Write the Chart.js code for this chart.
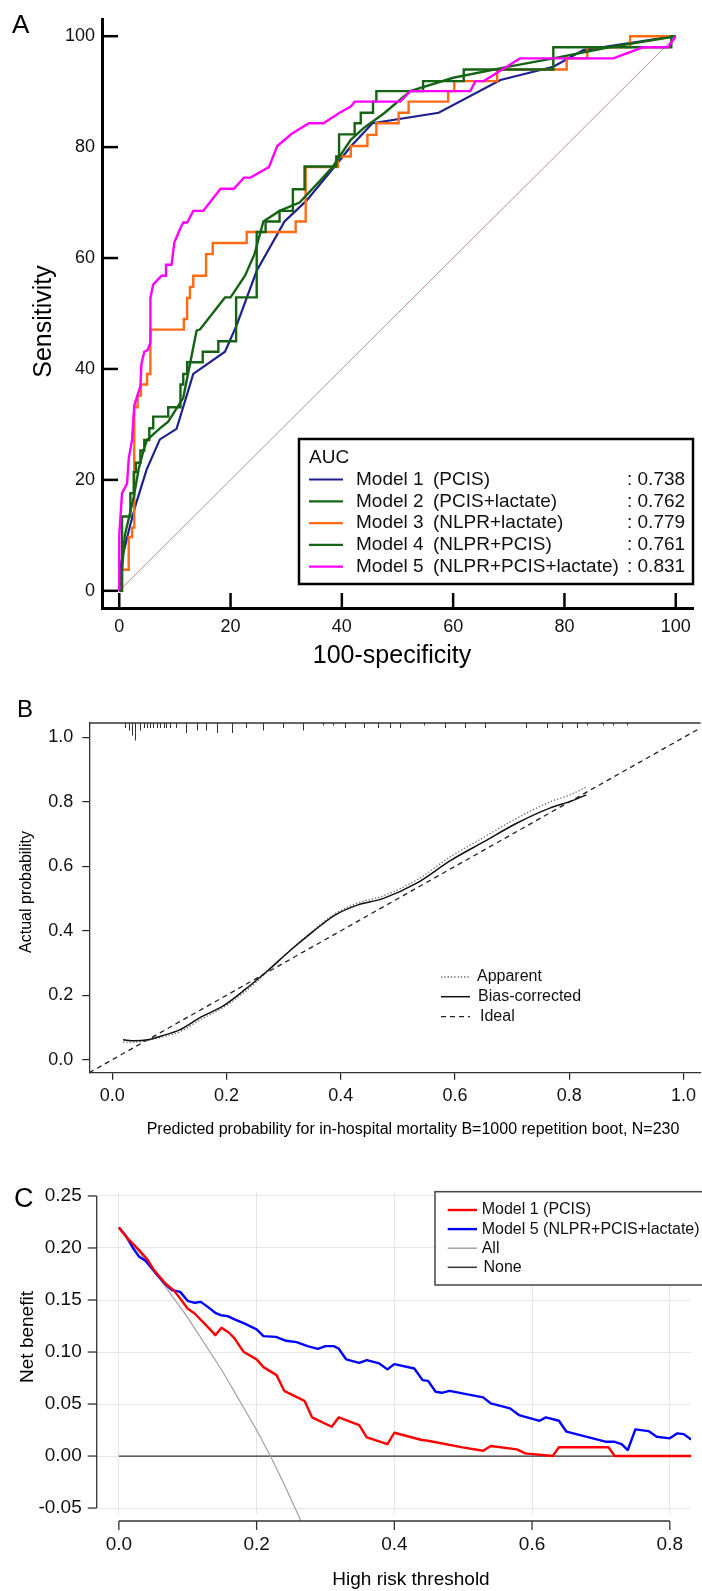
<!DOCTYPE html>
<html><head><meta charset="utf-8">
<script src="https://cdn.jsdelivr.net/npm/chart.js"></script>
<style>
html,body{margin:0;padding:0;background:#fff;width:702px;height:1591px;overflow:hidden;}
canvas{position:absolute;left:0;}
</style></head><body>
<canvas id="cA" width="702" height="680" style="top:0;width:702px;height:680px"></canvas>
<canvas id="cB" width="702" height="470" style="top:680px;width:702px;height:470px"></canvas>
<canvas id="cC" width="702" height="441" style="top:1150px;width:702px;height:441px"></canvas>
<script>
// ================= Panel A : ROC curves =================
const rocTicks = [0, 20, 40, 60, 80, 100];
const modelNums = ['1', '2', '3', '4', '5'];
const modelDesc = ['(PCIS)', '(PCIS+lactate)', '(NLPR+lactate)', '(NLPR+PCIS)', '(NLPR+PCIS+lactate)'];
const aucValues = ['0.738', '0.762', '0.779', '0.761', '0.831'];

const m1Fpr  = [0, 0.3, 2.0, 3.1, 4.9, 7.3, 10.3, 13.3, 19.0, 21.1, 24.7, 29.7, 33.6, 39.6, 41.6, 45.5, 57.4, 68.5, 78.0, 83.4, 100];
const m1Sens = [0, 5.0, 12.0, 16.0, 21.8, 27.3, 29.2, 39.1, 43.1, 47.9, 57.7, 66.6, 70.3, 77.6, 80.1, 84.3, 86.2, 92.1, 94.5, 97.5, 100];

const m2Fpr  = [0, 0.5, 0.5, 2.0, 2.0, 2.6, 2.6, 3.0, 3.0, 3.8, 3.8, 4.5, 4.5, 5.4, 5.4, 6.1, 6.1, 8.8, 8.8, 11.0, 11.0, 11.5, 11.5, 12.2, 12.2, 15.0, 15.0, 17.8, 17.8, 21.0, 21.0, 24.7, 24.7, 26.3, 26.3, 28.8, 28.8, 31.2, 31.2, 33.3, 33.3, 39.0, 39.0, 39.5, 39.5, 42.3, 42.3, 43.4, 43.4, 45.6, 45.6, 46.2, 46.2, 54.6, 54.6, 61.9, 61.9, 78.0, 78.0, 99.2, 99.2, 100];
const m2Sens = [0, 0, 13.4, 13.4, 17.6, 17.6, 21.4, 21.4, 23.1, 23.1, 25.3, 25.3, 27.2, 27.2, 29.3, 29.3, 31.4, 31.4, 33.1, 33.1, 37.2, 37.2, 39.1, 39.1, 41.2, 41.2, 43.1, 43.1, 45.0, 45.0, 52.9, 52.9, 64.7, 64.7, 66.6, 66.6, 68.5, 68.5, 72.4, 72.4, 76.5, 76.5, 78.3, 78.3, 82.3, 82.3, 84.3, 84.3, 86.2, 86.2, 88.2, 88.2, 90.1, 90.1, 91.9, 91.9, 94.0, 94.0, 98.0, 98.0, 100, 100];

const m3Fpr  = [0, 0.5, 0.5, 1.7, 1.7, 2.3, 2.3, 2.7, 2.7, 3.3, 3.3, 3.9, 3.9, 5.0, 5.0, 5.6, 5.6, 11.6, 11.6, 12.2, 12.2, 12.7, 12.7, 13.3, 13.3, 15.6, 15.6, 16.8, 16.8, 22.9, 22.9, 31.7, 31.7, 33.5, 33.5, 39.3, 39.3, 41.6, 41.6, 44.6, 44.6, 46.2, 46.2, 50.2, 50.2, 52.0, 52.0, 59.1, 59.1, 60.2, 60.2, 67.9, 67.9, 80.4, 80.4, 84.1, 84.1, 91.8, 91.8, 100];
const m3Sens = [0, 0, 3.8, 3.8, 9.7, 9.7, 11.4, 11.4, 33.1, 33.1, 35.2, 35.2, 37.2, 37.2, 39.1, 39.1, 47.1, 47.1, 49.0, 49.0, 52.8, 52.8, 54.8, 54.8, 56.8, 56.8, 60.7, 60.7, 62.7, 62.7, 64.7, 64.7, 66.6, 66.6, 76.4, 76.4, 78.3, 78.3, 80.2, 80.2, 82.2, 82.2, 84.3, 84.3, 86.2, 86.2, 88.2, 88.2, 90.1, 90.1, 91.9, 91.9, 94.0, 94.0, 96.0, 96.0, 98.0, 98.0, 100, 100];

const m4Fpr  = [0, 0.5, 1.0, 2.6, 3.5, 4.4, 5.0, 7.3, 8.8, 11.5, 13.9, 14.5, 19.0, 20.0, 22.6, 24.3, 25.9, 28.8, 32.4, 36.6, 38.4, 41.6, 44.0, 47.6, 52.3, 60.0, 70.0, 78.0, 88.0, 100];
const m4Sens = [0, 3.8, 10.0, 16.9, 22.0, 25.5, 27.2, 29.3, 30.5, 34.8, 46.9, 47.1, 52.9, 52.9, 56.8, 60.7, 66.6, 68.5, 70.0, 74.5, 76.5, 81.3, 83.5, 86.1, 90.1, 92.5, 94.5, 96.0, 98.0, 100];

const m5Fpr  = [0, 0, 0.5, 1.4, 1.7, 2.3, 2.7, 3.8, 4.0, 4.5, 5.1, 5.6, 5.6, 6.1, 7.6, 8.4, 8.4, 9.4, 9.9, 10.9, 11.5, 12.2, 13.3, 15.1, 18.2, 20.6, 22.4, 23.6, 26.9, 28.4, 31.0, 34.1, 36.7, 39.6, 41.6, 42.3, 50.5, 52.3, 63.1, 64.0, 65.5, 72.0, 88.8, 94.1, 98.6, 100];
const m5Sens = [0, 10.0, 17.6, 19.3, 23.8, 27.2, 33.4, 36.9, 41.0, 43.1, 43.4, 44.8, 52.8, 55.2, 56.8, 56.8, 58.8, 58.8, 62.8, 65.2, 66.4, 66.4, 68.5, 68.5, 72.5, 72.5, 74.5, 74.5, 76.4, 80.2, 82.4, 84.3, 84.3, 86.2, 87.3, 88.2, 88.2, 90.1, 90.1, 91.9, 91.9, 96.0, 96.0, 98.0, 98.0, 100];

const refFpr  = [0, 100];
const refSens = [0, 100];

// ================= Panel B : calibration =================
const calTicks = [0, 0.2, 0.4, 0.6, 0.8, 1.0];
const calTickLabels = ['0.0', '0.2', '0.4', '0.6', '0.8', '1.0'];
const calPred     = [0.019, 0.039, 0.062, 0.086, 0.117, 0.156, 0.195, 0.234, 0.273, 0.312, 0.351, 0.390, 0.429, 0.475, 0.533, 0.592, 0.650, 0.708, 0.766, 0.801, 0.830];
const calBiasCorr = [0.062, 0.059, 0.062, 0.074, 0.092, 0.133, 0.168, 0.220, 0.278, 0.340, 0.397, 0.449, 0.480, 0.501, 0.548, 0.618, 0.676, 0.734, 0.781, 0.801, 0.822];
const calApparent = [0.055, 0.055, 0.060, 0.070, 0.086, 0.126, 0.163, 0.213, 0.275, 0.340, 0.400, 0.453, 0.486, 0.509, 0.558, 0.630, 0.690, 0.749, 0.800, 0.822, 0.846];
const idealX = [-0.04, 1.03];
const idealY = [-0.04, 1.03];
const rugX = [0.023, 0.030, 0.034, 0.040, 0.049, 0.055, 0.061, 0.066, 0.072, 0.078, 0.084, 0.090, 0.095, 0.102, 0.112, 0.130, 0.148, 0.165, 0.183, 0.209, 0.235, 0.264, 0.299, 0.334, 0.369, 0.386, 0.407,
              0.440, 0.466, 0.486, 0.503, 0.546, 0.583, 0.618, 0.653, 0.724, 0.761, 0.787, 0.813, 0.831, 0.859, 0.876, 0.902];
const rugCount = [2, 3, 5, 7, 3, 2, 2, 2, 2, 2, 2, 2, 2, 2, 2, 4, 3, 3, 4, 4, 2, 3, 2, 3, 1, 1, 2,
                  2, 2, 2, 2, 1, 2, 2, 2, 2, 2, 2, 2, 1, 1, 1, 1];
const calLegend = ['Apparent', 'Bias-corrected', 'Ideal'];

// ================= Panel C : decision curve =================
const dcaXTicks = [0, 0.2, 0.4, 0.6, 0.8];
const dcaXLabels = ['0.0', '0.2', '0.4', '0.6', '0.8'];
const dcaYTicks = [-0.05, 0, 0.05, 0.10, 0.15, 0.20, 0.25];
const dcaYLabels = ['-0.05', '0.00', '0.05', '0.10', '0.15', '0.20', '0.25'];

const m5Thr = [0, 0.0096, 0.020, 0.0295, 0.039, 0.053, 0.0676, 0.077, 0.089, 0.0998, 0.110, 0.119, 0.129, 0.140, 0.148, 0.158, 0.168, 0.182, 0.200, 0.210, 0.228, 0.243, 0.258, 0.274, 0.289, 0.300, 0.312, 0.319, 0.330, 0.349, 0.360, 0.378, 0.390, 0.400, 0.429, 0.441, 0.449, 0.460, 0.469, 0.480, 0.529, 0.540, 0.568, 0.581, 0.611, 0.620, 0.639, 0.650, 0.708, 0.720, 0.730, 0.739, 0.750, 0.769, 0.781, 0.800, 0.811, 0.820, 0.831];
const m5NB  = [0.2197, 0.2123, 0.2005, 0.1915, 0.1876, 0.1761, 0.1652, 0.1595, 0.1578, 0.1492, 0.1473, 0.1482, 0.1434, 0.1377, 0.1354, 0.1345, 0.1313, 0.1275, 0.1217, 0.1153, 0.1146, 0.1108, 0.1095, 0.1057, 0.1031, 0.1057, 0.1057, 0.1034, 0.0930, 0.0896, 0.0922, 0.0890, 0.0833, 0.0884, 0.0842, 0.0730, 0.0723, 0.0618, 0.0608, 0.0627, 0.0564, 0.0506, 0.0458, 0.0394, 0.0339, 0.0372, 0.0339, 0.0234, 0.0137, 0.0137, 0.0115, 0.0058, 0.0256, 0.0240, 0.0185, 0.0170, 0.0218, 0.0211, 0.0160];

const m1Thr = [0, 0.0105, 0.0295, 0.0414, 0.051, 0.0676, 0.0795, 0.089, 0.0998, 0.110, 0.129, 0.140, 0.149, 0.160, 0.168, 0.181, 0.200, 0.210, 0.229, 0.240, 0.2695, 0.2805, 0.309, 0.3194, 0.330, 0.349, 0.360, 0.390, 0.400, 0.440, 0.449, 0.499, 0.529, 0.540, 0.578, 0.590, 0.630, 0.639, 0.711, 0.720, 0.831];
const m1NB  = [0.2197, 0.2107, 0.1979, 0.1890, 0.1787, 0.1659, 0.1595, 0.1515, 0.1419, 0.1370, 0.1242, 0.1162, 0.1233, 0.1185, 0.1131, 0.1002, 0.0929, 0.0855, 0.0778, 0.0627, 0.0531, 0.0372, 0.0282, 0.0372, 0.0346, 0.0298, 0.0180, 0.0115, 0.0224, 0.0154, 0.0147, 0.0084, 0.0051, 0.0096, 0.0064, 0.0026, 0.0, 0.0084, 0.0084, 0.0, 0.0];

const allThr = [0, 0.05, 0.10, 0.15, 0.20, 0.22, 0.24, 0.26, 0.28];
const allNB  = [0.220, 0.179, 0.133, 0.082, 0.025, 0.0, -0.027, -0.056, -0.085];
const noneThr = [0, 0.99];
const noneNB  = [0, 0];
const dcaLegend = ['Model 1 (PCIS)', 'Model 5 (NLPR+PCIS+lactate)', 'All', 'None'];

// ================= helpers =================
const FONT = "'Liberation Sans', Arial, Helvetica, sans-serif";
const pts = (xs, ys) => xs.map((x, i) => ({x: x, y: ys[i]}));
const setTicks = vals => (s => { s.ticks = vals.map(v => ({value: v})); });
Chart.defaults.font.family = FONT;
Chart.defaults.color = '#111';

const COL_NAVY = '#20208c', COL_GREEN = '#146414', COL_ORANGE = '#ff6a14', COL_MAG = '#ff00ff';
const baseOpts = {responsive: false, animation: false, devicePixelRatio: 1, events: []};
function line(ctx, x1, y1, x2, y2) { ctx.beginPath(); ctx.moveTo(x1, y1); ctx.lineTo(x2, y2); ctx.stroke(); }

// ================= Chart A =================
const decorA = {
  id: 'decorA',
  afterDraw(chart) {
    const {ctx, chartArea: a, scales: {x, y}} = chart;
    ctx.save();
    ctx.strokeStyle = '#000'; ctx.lineWidth = 2.5;
    x.ticks.forEach(t => { const p = x.getPixelForValue(t.value); line(ctx, p, a.bottom, p, a.bottom - 15); });
    y.ticks.forEach(t => { const p = y.getPixelForValue(t.value); line(ctx, a.left, p, a.left + 16, p); });
    // legend
    const bx = 299, by = 439, bw = 394, bh = 145;
    ctx.fillStyle = '#fff'; ctx.fillRect(bx, by, bw, bh);
    ctx.lineWidth = 2.5; ctx.strokeStyle = '#000'; ctx.strokeRect(bx, by, bw, bh);
    ctx.font = '19px ' + FONT; ctx.fillStyle = '#111'; ctx.textBaseline = 'middle'; ctx.textAlign = 'left';
    ctx.fillText('AUC', bx + 10, by + 18.5);
    const ds = chart.data.datasets;
    for (let i = 0; i < 5; i++) {
      const yy = by + 40.5 + i * 21.8;
      ctx.strokeStyle = ds[i + 1].borderColor; ctx.lineWidth = 2.2;
      line(ctx, bx + 10, yy, bx + 44, yy);
      ctx.fillText('Model', bx + 57, yy);
      ctx.fillText(modelNums[i], bx + 114, yy);
      ctx.fillText(modelDesc[i], bx + 134, yy);
      ctx.fillText(': ' + aucValues[i], bx + 328, yy);
    }
    // texts
    ctx.fillStyle = '#000';
    ctx.font = '26px ' + FONT; ctx.textBaseline = 'alphabetic';
    ctx.fillText('A', 12, 33);
    ctx.font = '25px ' + FONT; ctx.textAlign = 'center';
    ctx.fillText('100-specificity', 392, 663);
    ctx.translate(44, 321.5); ctx.rotate(-Math.PI / 2); ctx.textBaseline = 'middle';
    ctx.fillText('Sensitivity', 0, 0);
    ctx.restore();
  }
};

new Chart(document.getElementById('cA'), {
  type: 'line',
  data: {datasets: [
    {label: 'Reference', data: pts(refFpr, refSens), borderColor: '#b99090', borderWidth: 1, order: 10},
    {label: 'Model 1 (PCIS)', data: pts(m1Fpr, m1Sens), borderColor: COL_NAVY, borderWidth: 2.2, order: 6},
    {label: 'Model 2 (PCIS+lactate)', data: pts(m2Fpr, m2Sens), borderColor: COL_GREEN, borderWidth: 2.4, order: 3},
    {label: 'Model 3 (NLPR+lactate)', data: pts(m3Fpr, m3Sens), borderColor: COL_ORANGE, borderWidth: 2.4, order: 5},
    {label: 'Model 4 (NLPR+PCIS)', data: pts(m4Fpr, m4Sens), borderColor: COL_GREEN, borderWidth: 2.4, order: 4},
    {label: 'Model 5 (NLPR+PCIS+lactate)', data: pts(m5Fpr, m5Sens), borderColor: COL_MAG, borderWidth: 2.4, order: 1}
  ]},
  options: Object.assign({}, baseOpts, {
    layout: {padding: {top: 19, right: 9, left: 0, bottom: 0}},
    elements: {point: {radius: 0}, line: {tension: 0, borderJoinStyle: 'miter', borderCapStyle: 'butt'}},
    scales: {
      x: {type: 'linear', min: -3.1, max: 103.1, afterFit: s => { s.height = 72; }, afterBuildTicks: setTicks(rocTicks),
          ticks: {font: {size: 18}, color: '#111', padding: 8, maxRotation: 0, autoSkip: false},
          grid: {display: false, drawTicks: false}, border: {display: true, width: 3, color: '#000'}},
      y: {type: 'linear', min: -3.1, max: 103.1, afterFit: s => { s.width = 102; }, afterBuildTicks: setTicks(rocTicks),
          ticks: {font: {size: 18}, color: '#111', padding: 7, autoSkip: false},
          grid: {display: false, drawTicks: false}, border: {display: true, width: 3, color: '#000'}}
    },
    plugins: {legend: {display: false}, tooltip: {enabled: false}}
  }),
  plugins: [decorA]
});

// ================= Chart B =================
const decorB = {
  id: 'decorB',
  afterDraw(chart) {
    const {ctx, chartArea: a, scales: {x}} = chart;
    ctx.save();
    ctx.strokeStyle = '#333'; ctx.lineWidth = 1.3;
    line(ctx, a.left, a.top, a.right, a.top);
    ctx.lineWidth = 1;
    rugX.forEach((v, i) => { const p = Math.round(x.getPixelForValue(v)) + 0.5; line(ctx, p, a.top, p, a.top + rugCount[i] * 2.5); });
    // legend
    const ds = chart.data.datasets;
    const ly = [297, 316.7, 336.7], lx = [477, 478, 480];
    ctx.font = '16px ' + FONT; ctx.fillStyle = '#111'; ctx.textBaseline = 'middle'; ctx.textAlign = 'left';
    for (let i = 0; i < 3; i++) {
      ctx.strokeStyle = ds[i].borderColor; ctx.lineWidth = ds[i].borderWidth; ctx.setLineDash(ds[i].borderDash || []);
      line(ctx, 441, ly[i], 470, ly[i]);
      ctx.setLineDash([]);
      ctx.fillText(calLegend[i], lx[i], ly[i]);
    }
    ctx.fillStyle = '#000';
    ctx.font = '24px ' + FONT; ctx.textBaseline = 'alphabetic';
    ctx.fillText('B', 17, 37);
    ctx.font = '16px ' + FONT; ctx.textAlign = 'center'; ctx.textBaseline = 'middle';
    ctx.fillText('Predicted probability for in-hospital mortality B=1000 repetition boot, N=230', 413, 450);
    ctx.translate(27, 212); ctx.rotate(-Math.PI / 2);
    ctx.fillText('Actual probability', 0, 0);
    ctx.restore();
  }
};

new Chart(document.getElementById('cB'), {
  type: 'line',
  data: {datasets: [
    {label: 'Apparent', data: pts(calPred, calApparent), borderColor: '#666', borderWidth: 1.3, borderDash: [1.3, 2], cubicInterpolationMode: 'monotone', order: 2},
    {label: 'Bias-corrected', data: pts(calPred, calBiasCorr), borderColor: '#111', borderWidth: 1.5, cubicInterpolationMode: 'monotone', order: 1},
    {label: 'Ideal', data: pts(idealX, idealY), borderColor: '#222', borderWidth: 1.3, borderDash: [5, 4], order: 3}
  ]},
  options: Object.assign({}, baseOpts, {
    layout: {padding: {top: 43, right: 0, left: 0, bottom: 0}},
    elements: {point: {radius: 0}, line: {tension: 0}},
    scales: {
      x: {type: 'linear', min: -0.04, max: 1.03, afterFit: s => { s.height = 77.3; }, afterBuildTicks: setTicks(calTicks),
          ticks: {font: {size: 18}, color: '#111', padding: 6, maxRotation: 0, autoSkip: false, callback: (v, i) => calTickLabels[i]},
          grid: {display: true, drawOnChartArea: false, drawTicks: true, tickLength: 7, color: '#222', lineWidth: 1.2},
          border: {display: true, width: 1.3, color: '#333'}},
      y: {type: 'linear', min: -0.04, max: 1.045, afterFit: s => { s.width = 89.3; }, afterBuildTicks: setTicks(calTicks),
          ticks: {font: {size: 18}, color: '#111', padding: 9, autoSkip: false, callback: (v, i) => calTickLabels[i]},
          grid: {display: true, drawOnChartArea: false, drawTicks: true, tickLength: 7, color: '#222', lineWidth: 1.2},
          border: {display: true, width: 1.3, color: '#333'}}
    },
    plugins: {legend: {display: false}, tooltip: {enabled: false}}
  }),
  plugins: [decorB]
});

// ================= Chart C =================
const decorC = {
  id: 'decorC',
  afterDraw(chart) {
    const {ctx, chartArea: a, scales: {x, y}} = chart;
    ctx.save();
    ctx.strokeStyle = '#333'; ctx.lineWidth = 1.3;
    const yTop = y.getPixelForValue(dcaYTicks[dcaYTicks.length - 1]), yBot = y.getPixelForValue(dcaYTicks[0]);
    line(ctx, a.left, yTop, a.left, yBot);
    y.ticks.forEach(t => { const p = y.getPixelForValue(t.value); line(ctx, a.left, p, a.left - 9, p); });
    const ax = a.bottom + 7;
    line(ctx, x.getPixelForValue(dcaXTicks[0]), ax, x.getPixelForValue(dcaXTicks[dcaXTicks.length - 1]), ax);
    x.ticks.forEach(t => { const p = x.getPixelForValue(t.value); line(ctx, p, ax, p, ax + 9); });
    // legend
    const bx = 435, by = 41.7, bh = 93.3;
    ctx.fillStyle = '#fff'; ctx.fillRect(bx, by, 300, bh);
    ctx.strokeStyle = '#444'; ctx.lineWidth = 1.5; ctx.strokeRect(bx, by, 300, bh);
    const ds = chart.data.datasets;
    ctx.font = '16px ' + FONT; ctx.fillStyle = '#111'; ctx.textBaseline = 'middle'; ctx.textAlign = 'left';
    for (let i = 0; i < 4; i++) {
      const yy = 60 + i * 19.1;
      ctx.strokeStyle = ds[i].borderColor; ctx.lineWidth = i < 2 ? 2.4 : 1.5;
      line(ctx, 447.7, yy, 477, yy);
      ctx.fillText(dcaLegend[i], i === 3 ? 483.5 : 481.7, yy);
    }
    ctx.fillStyle = '#000';
    ctx.font = '27px ' + FONT; ctx.textBaseline = 'alphabetic';
    ctx.fillText('C', 14, 57);
    ctx.font = '19px ' + FONT; ctx.textAlign = 'center'; ctx.textBaseline = 'middle';
    ctx.fillText('High risk threshold', 411, 430);
    ctx.translate(28, 187); ctx.rotate(-Math.PI / 2);
    ctx.fillText('Net benefit', 0, 0);
    ctx.restore();
  }
};

const clipC = {left: 0, top: 0, right: 0, bottom: 7};
new Chart(document.getElementById('cC'), {
  type: 'line',
  data: {datasets: [
    {label: dcaLegend[0], data: pts(m1Thr, m1NB), borderColor: '#ff0000', borderWidth: 2.4, order: 1, clip: clipC},
    {label: dcaLegend[1], data: pts(m5Thr, m5NB), borderColor: '#0000ff', borderWidth: 2.4, order: 2, clip: clipC},
    {label: dcaLegend[2], data: pts(allThr, allNB), borderColor: '#a0a0a0', borderWidth: 1.2, order: 3, clip: clipC},
    {label: dcaLegend[3], data: pts(noneThr, noneNB), borderColor: '#333', borderWidth: 1.3, order: 4, clip: clipC}
  ]},
  options: Object.assign({}, baseOpts, {
    layout: {padding: {top: 41.7, right: 0, left: 0, bottom: 0}},
    elements: {point: {radius: 0}, line: {tension: 0, borderJoinStyle: 'round'}},
    scales: {
      x: {type: 'linear', min: -0.0322, max: 0.831, afterFit: s => { s.height = 77; }, afterBuildTicks: setTicks(dcaXTicks),
          ticks: {font: {size: 19}, color: '#111', padding: 19, maxRotation: 0, autoSkip: false, callback: (v, i) => dcaXLabels[i]},
          grid: {display: true, drawOnChartArea: true, drawTicks: false, color: '#e6e6e6', lineWidth: 1},
          border: {display: false}},
      y: {type: 'linear', min: -0.0557, max: 0.2541, afterFit: s => { s.width = 96.7; }, afterBuildTicks: setTicks(dcaYTicks),
          ticks: {font: {size: 19}, color: '#111', padding: 15, autoSkip: false, callback: (v, i) => dcaYLabels[i]},
          grid: {display: true, drawOnChartArea: true, drawTicks: false, color: '#e6e6e6', lineWidth: 1},
          border: {display: false}}
    },
    plugins: {legend: {display: false}, tooltip: {enabled: false}}
  }),
  plugins: [decorC]
});
</script>
</body></html>
